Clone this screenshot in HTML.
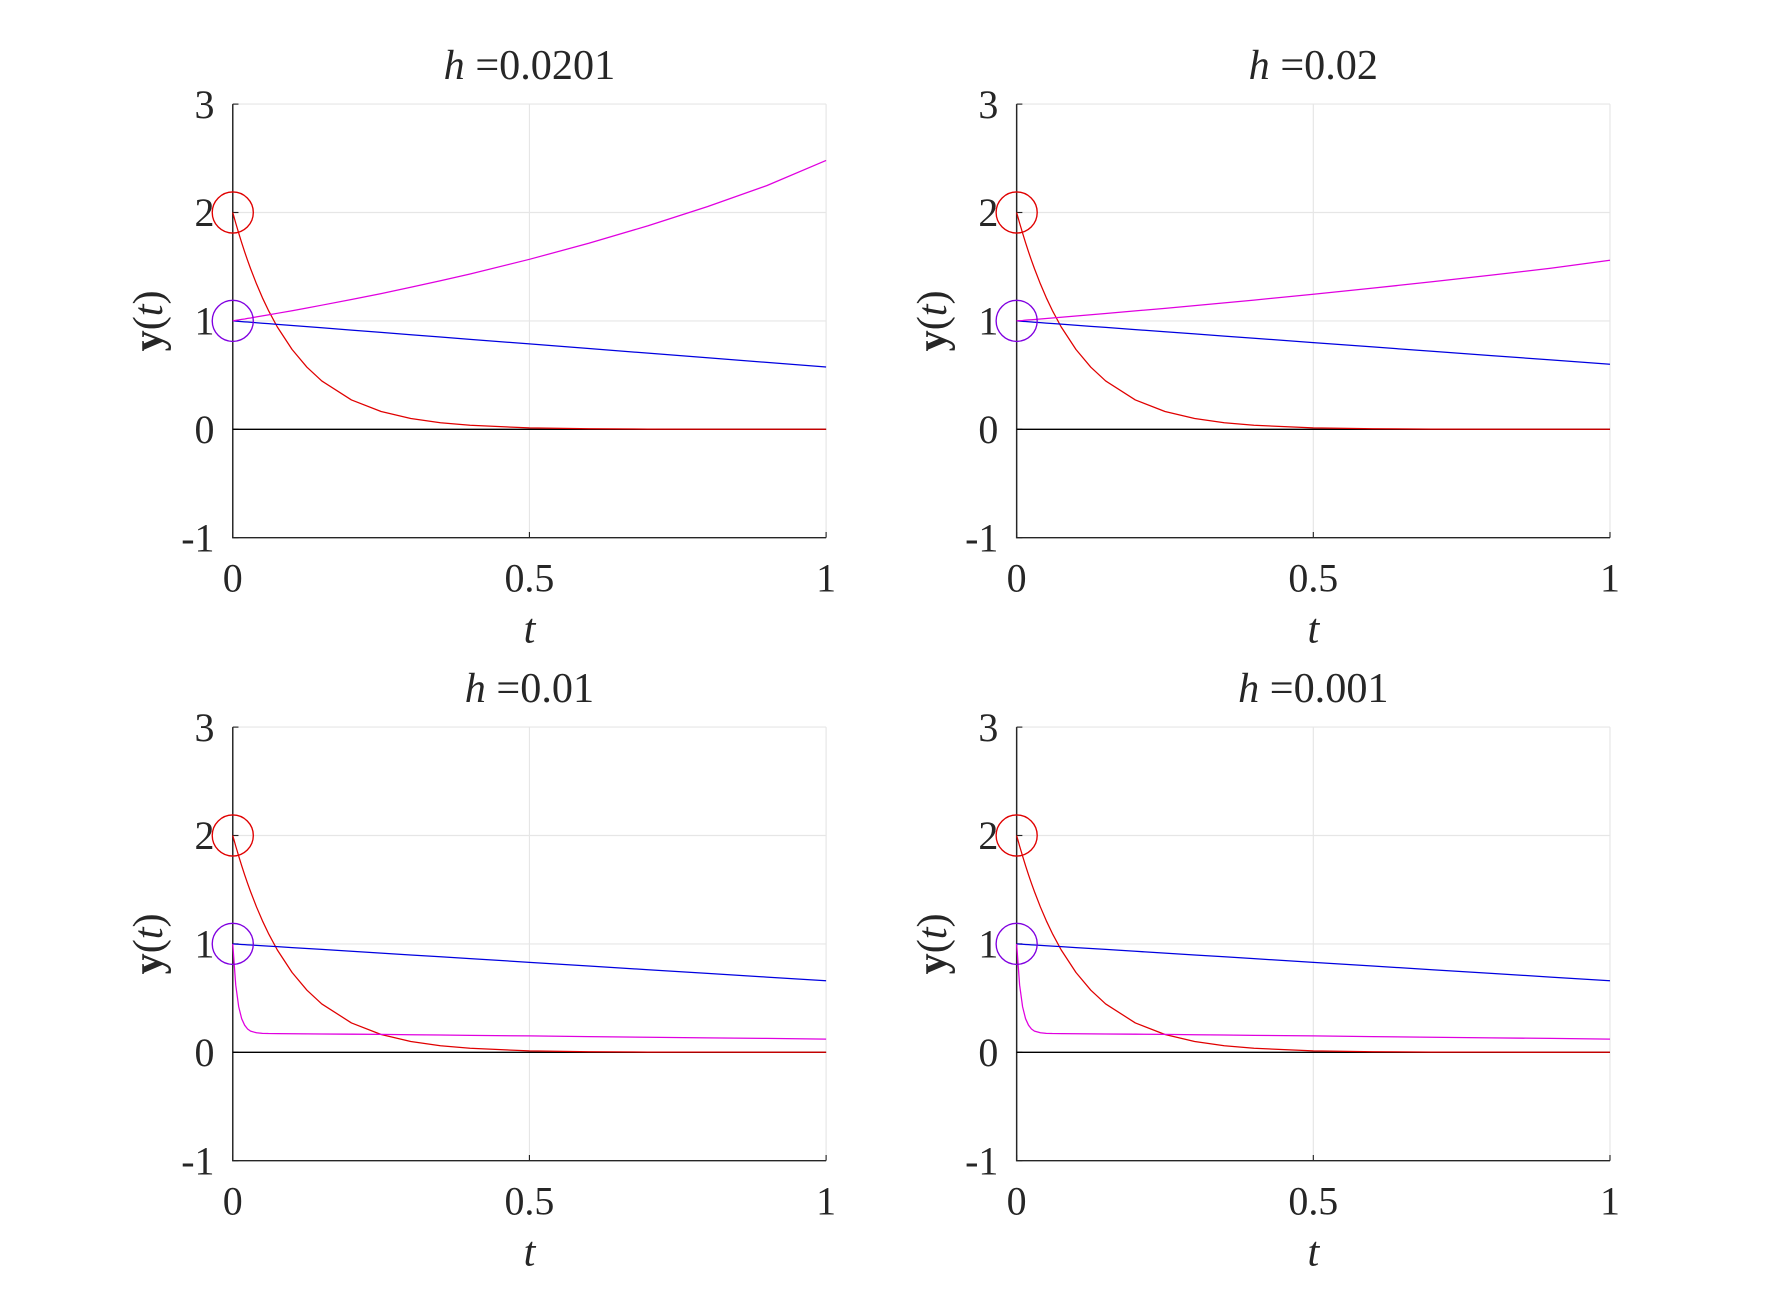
<!DOCTYPE html>
<html><head><meta charset="utf-8"><style>
html,body{margin:0;padding:0;background:#fff}
svg{display:block}
text{font-family:"Liberation Serif",serif;fill:#262626}
</style></head><body>
<svg id="fig" width="1780" height="1315" viewBox="0 0 1560 1152" xmlns="http://www.w3.org/2000/svg"></svg>
<script>
const tVals=[0,0.005,0.01,0.015,0.02,0.025,0.03,0.04,0.05,0.06,0.075,0.1,0.125,0.15,0.2,0.25,0.3,0.35,0.4,0.5,0.6,0.7,0.8,0.9,1];
const redVals=[2,1.902,1.810,1.721,1.637,1.558,1.482,1.341,1.213,1.098,0.945,0.736,0.573,0.446,0.271,0.164,0.100,0.060,0.037,0.013,0.005,0.002,0.001,0.0005,0];
const blueTop1=[1,0.9979,0.9958,0.9936,0.9915,0.9894,0.9873,0.983,0.9788,0.9745,0.9681,0.9575,0.9469,0.9363,0.915,0.8938,0.8725,0.8513,0.83,0.7875,0.745,0.7025,0.66,0.6175,0.575];
const magTop1=[1,1.005,1.009,1.014,1.018,1.023,1.027,1.037,1.046,1.055,1.07,1.094,1.119,1.145,1.197,1.252,1.31,1.37,1.433,1.568,1.716,1.878,2.054,2.248,2.48];
const blueTop2=[1,0.998,0.996,0.994,0.992,0.99,0.988,0.984,0.98,0.976,0.97,0.96,0.95,0.94,0.92,0.9,0.88,0.86,0.84,0.8,0.76,0.72,0.68,0.64,0.6];
const magTop2=[1,1.002,1.004,1.007,1.009,1.011,1.013,1.018,1.022,1.027,1.034,1.045,1.057,1.068,1.092,1.116,1.141,1.166,1.192,1.246,1.302,1.361,1.422,1.486,1.56];
const blueBot=[1,0.9983,0.9966,0.9949,0.9932,0.9915,0.9898,0.9864,0.983,0.9796,0.9745,0.966,0.9575,0.949,0.932,0.915,0.898,0.881,0.864,0.83,0.796,0.762,0.728,0.694,0.66];
const magBot=[1,0.62,0.42,0.31,0.25,0.215,0.195,0.18,0.175,0.173,0.172,0.171,0.17,0.169,0.167,0.165,0.162,0.159,0.156,0.151,0.145,0.139,0.133,0.128,0.122];
const xTicks=[0,0.5,1];
const xTickLabels=["0","0.5","1"];
const yTicks=[-1,0,1,2,3];
const yTickLabels=["-1","0","1","2","3"];
const titles=["0.0201","0.02","0.01","0.001"];
const panels=[
 {x0:204,y0:91,title:titles[0],blue:blueTop1,mag:magTop1},
 {x0:891,y0:91,title:titles[1],blue:blueTop2,mag:magTop2},
 {x0:204,y0:637,title:titles[2],blue:blueBot,mag:magBot},
 {x0:891,y0:637,title:titles[3],blue:blueBot,mag:magBot}];
const W=520,H=380,NS="http://www.w3.org/2000/svg",svg=document.getElementById('fig');
function mk(tag,attrs,parent){const e=document.createElementNS(NS,tag);for(const k in attrs)e.setAttribute(k,attrs[k]);parent.appendChild(e);return e;}
panels.forEach((p,i)=>{
 const g=mk('g',{},svg);
 
 
 const sx=t=>p.x0+t*W, sy=v=>p.y0+(3-v)/4*H;
 xTicks.forEach((t,k)=>{
  const l=mk('line',{x1:sx(t),x2:sx(t),y1:p.y0,y2:p.y0+H,stroke:'#e6e6e6','stroke-width':1},g);
  
  
  const tk=mk('line',{x1:sx(t),x2:sx(t),y1:p.y0+H,y2:p.y0+H-5,stroke:'#262626','stroke-width':1},g);
  
  
  const tx=mk('text',{x:sx(t),y:p.y0+H+47,'text-anchor':'middle','font-size':35},g);tx.textContent=xTickLabels[k];
  
  
 });
 yTicks.forEach((v,k)=>{
  const l=mk('line',{x1:p.x0,x2:p.x0+W,y1:sy(v),y2:sy(v),stroke:'#e6e6e6','stroke-width':1},g);
  
  
  const tk=mk('line',{x1:p.x0,x2:p.x0+5,y1:sy(v),y2:sy(v),stroke:'#262626','stroke-width':1},g);
  
  
  const tx=mk('text',{x:p.x0-16,y:sy(v)+12,'text-anchor':'end','font-size':35},g);tx.textContent=yTickLabels[k];
  
  
 });
 const ax=mk('path',{d:`M${p.x0},${p.y0}V${p.y0+H}H${p.x0+W}`,fill:'none',stroke:'#262626','stroke-width':1.3},g);
 
 
 const z=mk('line',{x1:sx(0),x2:sx(1),y1:sy(0),y2:sy(0),stroke:'#000','stroke-width':1.2},g);
 
 
 [[redVals,'#e00000','red-curve'],[p.blue,'#0000e0','blue-curve'],[p.mag,'#e000e0','magenta-curve']].forEach(([vals,c,n])=>{
  const d=tVals.map((t,k)=>(k?'L':'M')+sx(t).toFixed(2)+','+sy(vals[k]).toFixed(2)).join('');
  const pa=mk('path',{d:d,fill:'none',stroke:c,'stroke-width':1.1,'stroke-linejoin':'round'},g);
  
  
 });
 const c1=mk('circle',{cx:sx(0),cy:sy(redVals[0]),r:18,fill:'none',stroke:'#e00000','stroke-width':1.2},g);
 
 
 const c2=mk('circle',{cx:sx(0),cy:sy(p.blue[0]),r:18,fill:'none',stroke:'#8000e0','stroke-width':1.2},g);
 
 
 const tt=mk('text',{x:p.x0+W/2,y:p.y0-22,'text-anchor':'middle','font-size':37},g);
 tt.innerHTML='<tspan font-style="italic">h</tspan> =' + p.title;
 
 
 const xl=mk('text',{x:p.x0+W/2,y:p.y0+H+92,'text-anchor':'middle','font-size':37,'font-style':'italic'},g);xl.textContent='t';
 
 
 const yl=mk('text',{x:0,y:0,'text-anchor':'middle','font-size':37,transform:`translate(${p.x0-62},${p.y0+H*0.5}) rotate(-90)`},g);
 yl.innerHTML='<tspan font-weight="bold">y</tspan>(<tspan font-style="italic">t</tspan>)';
 
 
});
</script>
</body></html>
